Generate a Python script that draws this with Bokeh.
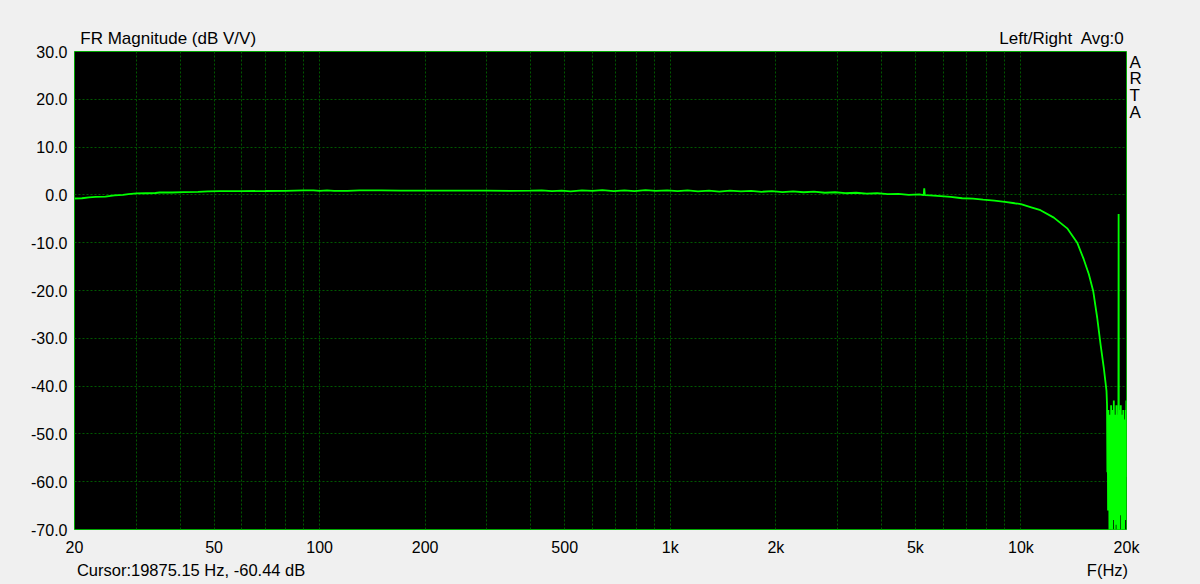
from bokeh.plotting import figure
from bokeh.models import FixedTicker, ColumnDataSource, LogAxis, LinearAxis
from bokeh.embed import file_html
from bokeh.resources import INLINE

# ---- data ----
freq_hz = [
    20, 21, 22, 23, 24.5, 26, 27.5, 28.5, 30, 32, 34, 35, 38, 41, 45, 48, 52, 60, 70, 80,
    90, 96, 100, 105, 110, 120, 130, 150, 170, 200, 250, 300, 350, 400,
    430, 460, 490, 520, 560, 600, 640, 690, 740, 790, 850, 910, 980, 1050, 1120, 1200,
    1290, 1380, 1480, 1590, 1700, 1820, 1950, 2090, 2240, 2400, 2570, 2760, 2950, 3160,
    3390, 3630, 3890, 4170, 4470, 4790, 5130, 5280, 5300, 5320, 5500, 5900, 6300, 6800,
    7300, 7800, 8400, 9000, 9600, 10000, 10700, 11370, 12410, 13550, 14470, 15110, 15620,
    16070, 16500, 16870, 17230, 17540,
    17600, 17640, 17680, 17720, 17760, 17800, 17840, 17880, 17920, 17960, 18000, 18040,
    18080, 18120, 18160, 18200, 18240, 18280, 18320, 18360, 18400, 18440, 18480, 18520,
    18560, 18600, 18640, 18680, 18720, 18760, 18800, 18840, 18880, 18920, 18960, 18990,
    19020, 19060, 19100, 19140, 19180, 19220, 19260, 19300, 19340, 19380, 19420, 19460,
    19500, 19540, 19580, 19620, 19660, 19700, 19740, 19780, 19820, 19860, 19875, 19900,
    19940, 19980, 20000,
]
magnitude_db = [
    -0.75, -0.7, -0.5, -0.4, -0.35, -0.1, 0.0, 0.15, 0.3, 0.35, 0.4, 0.5, 0.5, 0.6, 0.65, 0.75, 0.78, 0.8, 0.82, 0.85,
    0.95, 0.95, 0.85, 0.95, 0.85, 0.85, 0.95, 0.95, 0.9, 0.9, 0.88, 0.9, 0.85, 0.9,
    0.95, 0.8, 0.9, 0.75, 0.95, 0.85, 1.0, 0.8, 0.95, 0.8, 1.0, 0.85, 0.95, 0.8, 0.95, 0.75,
    0.9, 0.7, 0.9, 0.75, 0.85, 0.65, 0.8, 0.6, 0.75, 0.55, 0.7, 0.45, 0.55, 0.35,
    0.45, 0.25, 0.35, 0.15, 0.2, 0.0, 0.1, -0.05, 1.4, -0.05, -0.1, -0.25, -0.4, -0.7,
    -0.8, -1.0, -1.2, -1.45, -1.75, -1.95, -2.6, -3.2, -4.75, -7.0, -10.0, -13.5, -16.6,
    -20.1, -25.7, -31.3, -36.2, -41.0,
    -44, -58, -47, -66, -45, -61, -49, -72, -46, -63, -51, -70,
    -44, -59, -48, -74, -45, -62, -50, -68, -43, -57, -47, -73,
    -46, -64, -52, -69, -44, -60, -49, -75, -46, -63, -50, -4,
    -55, -71, -45, -61, -48, -67, -44, -58, -51, -74, -46, -62,
    -49, -70, -45, -57, -52, -72, -47, -64, -50, -68, -60.44, -45,
    -59, -43, -52,
]

x_tick_values = [20, 50, 100, 200, 500, 1000, 2000, 5000, 10000, 20000]
x_tick_labels = ["20", "50", "100", "200", "500", "1k", "2k", "5k", "10k", "20k"]
x_grid_values = [20, 30, 40, 50, 60, 70, 80, 90, 100, 200, 300, 400, 500, 600, 700, 800, 900,
                 1000, 2000, 3000, 4000, 5000, 6000, 7000, 8000, 9000, 10000, 20000]
y_tick_values = [-70, -60, -50, -40, -30, -20, -10, 0, 10, 20, 30]
y_tick_labels = ["-70.0", "-60.0", "-50.0", "-40.0", "-30.0", "-20.0", "-10.0", "0.0", "10.0", "20.0", "30.0"]

# header / footer texts (placed as labels of extra, tick-less axes)
top_text_x = [37, 13100]
top_texts = ["FR Magnitude (dB V/V)", "Left/Right\u00a0 Avg:0"]
bottom_text_x = [43, 17650]
bottom_texts = ["Cursor:19875.15 Hz, -60.44 dB", "F(Hz)"]
side_text_y = [27.8, 24.3, 20.8, 17.3]
side_texts = ["A", "R", "T", "A"]

FONT = "Liberation Sans"
BG = "#f0f0f0"

p = figure(
    x_axis_type="log",
    x_range=(20, 20000), y_range=(-70, 30),
    frame_width=1052, frame_height=478,
    min_border_left=74, min_border_right=74, min_border_top=51, min_border_bottom=55,
    output_backend="svg", toolbar_location=None,
    background_fill_color="black", border_fill_color=BG,
    outline_line_color="#00a800", outline_line_width=1,
)

def style_axis(ax, standoff, size="16px"):
    ax.axis_line_color = None
    ax.major_tick_line_color = None
    ax.minor_tick_line_color = None
    ax.major_tick_in = 0
    ax.major_tick_out = 0
    ax.minor_tick_in = 0
    ax.minor_tick_out = 0
    ax.major_label_text_font = FONT
    ax.major_label_text_font_size = size
    ax.major_label_text_color = "black"
    ax.major_label_standoff = standoff

# main axes
p.xaxis.ticker = FixedTicker(ticks=x_tick_values)
p.xaxis.major_label_overrides = {v: l for v, l in zip(x_tick_values, x_tick_labels)}
p.yaxis.ticker = FixedTicker(ticks=y_tick_values)
p.yaxis.major_label_overrides = {v: l for v, l in zip(y_tick_values, y_tick_labels)}
style_axis(p.xaxis[0], 9)
style_axis(p.yaxis[0], 7)

# text axes
top_ax = LogAxis(ticker=FixedTicker(ticks=top_text_x),
                 major_label_overrides={v: t for v, t in zip(top_text_x, top_texts)})
style_axis(top_ax, 4, "17px")
p.add_layout(top_ax, "above")

bot_ax = LogAxis(ticker=FixedTicker(ticks=bottom_text_x),
                 major_label_overrides={v: t for v, t in zip(bottom_text_x, bottom_texts)})
style_axis(bot_ax, 2, "16.5px")
p.add_layout(bot_ax, "below")

side_ax = LinearAxis(ticker=FixedTicker(ticks=side_text_y),
                     major_label_overrides={v: t for v, t in zip(side_text_y, side_texts)})
style_axis(side_ax, 3, "17px")
p.add_layout(side_ax, "right")

# grid
p.xgrid.ticker = FixedTicker(ticks=x_grid_values)
p.ygrid.ticker = FixedTicker(ticks=y_tick_values)
for g in (p.xgrid[0], p.ygrid[0]):
    g.grid_line_color = "#005800"
    g.grid_line_dash = "2 2"
    g.grid_line_width = 1

src = ColumnDataSource(dict(f=freq_hz, db=magnitude_db))
p.line("f", "db", source=src, line_color="#00ff00", line_width=1.8)

html = file_html(p, INLINE)
html = html.replace("</head>", "<style>body{background:%s;}</style></head>" % BG, 1)
open("out.html", "w").write(html)
